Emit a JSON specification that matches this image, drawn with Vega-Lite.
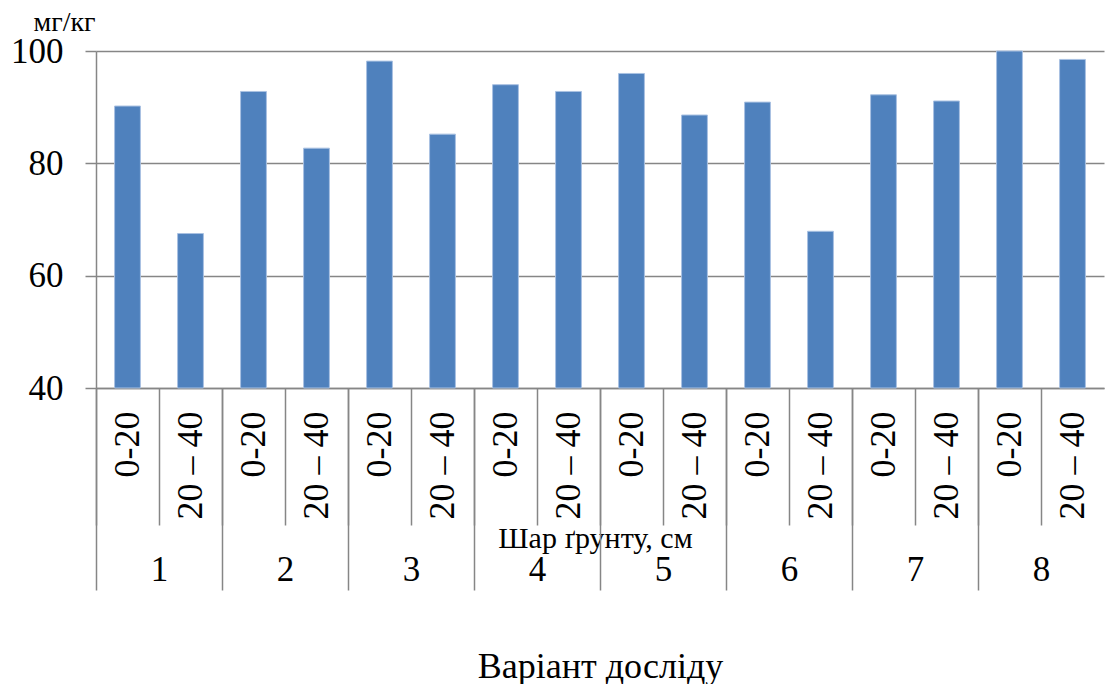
{
  "$schema": "https://vega.github.io/schema/vega-lite/v6.json",
  "width": 1008,
  "height": 337,
  "autosize": {"type": "none"},
  "padding": {"left": 96, "top": 51, "right": 6, "bottom": 296},
  "background": "white",
  "config": {
    "view": {"stroke": null},
    "font": "Liberation Serif",
    "axis": {"labelFont": "Liberation Serif", "titleFont": "Liberation Serif", "labelColor": "black", "titleColor": "black"}
  },
  "data": {
    "values": [
      {"group": "1", "key": "1|0-20", "value": 90.2},
      {"group": "1", "key": "1|20 – 40", "value": 67.5},
      {"group": "2", "key": "2|0-20", "value": 92.8},
      {"group": "2", "key": "2|20 – 40", "value": 82.7},
      {"group": "3", "key": "3|0-20", "value": 98.2},
      {"group": "3", "key": "3|20 – 40", "value": 85.2},
      {"group": "4", "key": "4|0-20", "value": 94.0},
      {"group": "4", "key": "4|20 – 40", "value": 92.8},
      {"group": "5", "key": "5|0-20", "value": 96.0},
      {"group": "5", "key": "5|20 – 40", "value": 88.6},
      {"group": "6", "key": "6|0-20", "value": 90.9},
      {"group": "6", "key": "6|20 – 40", "value": 67.9},
      {"group": "7", "key": "7|0-20", "value": 92.2},
      {"group": "7", "key": "7|20 – 40", "value": 91.1},
      {"group": "8", "key": "8|0-20", "value": 100.0},
      {"group": "8", "key": "8|20 – 40", "value": 98.5}
    ]
  },
  "layer": [
    {
      "mark": {"type": "bar", "width": {"band": 0.41}, "fill": "#4F81BD", "stroke": "#a9c1e2", "strokeWidth": 1},
      "encoding": {
        "x": {
          "field": "key", "type": "nominal", "sort": null,
          "scale": {"paddingInner": 0, "paddingOuter": 0},
          "axis": {
            "orient": "bottom",
            "labelExpr": "split(datum.label, '|')[1]",
            "labelAngle": -90, "labelAlign": "right", "labelBaseline": "middle",
            "labelPadding": 23, "labelFontSize": 36, "labelOverlap": false,
            "ticks": false, "grid": false,
            "domain": true, "domainColor": "#868686", "domainWidth": 1.5,
            "title": "Шар ґрунту, см", "titleFontSize": 30, "titleFontWeight": "normal",
            "titleX": 499, "titleY": 159, "titleBaseline": "alphabetic", "titleAlign": "center"
          }
        },
        "y": {
          "field": "value", "type": "quantitative",
          "scale": {"domain": [40, 100], "nice": false, "zero": false},
          "axis": {
            "values": [40, 60, 80, 100],
            "grid": true, "gridColor": "#868686", "gridWidth": 1.5,
            "tickSize": 11, "tickColor": "#868686", "tickWidth": 1.5,
            "domainColor": "#868686", "domainWidth": 1.5,
            "labelFontSize": 35, "labelPadding": 22, "labelFlush": false, "labelOverlap": false,
            "title": "мг/кг", "titleAngle": 0, "titleX": -63, "titleY": -21,
            "titleAlign": "left", "titleBaseline": "alphabetic",
            "titleFontSize": 28, "titleFontWeight": "normal"
          }
        },
        "y2": {"datum": 40}
      }
    },
    {
      "mark": {"type": "point", "opacity": 0},
      "encoding": {
        "x": {
          "field": "key", "type": "nominal", "sort": null,
          "scale": {"paddingInner": 0, "paddingOuter": 0},
          "axis": {
            "orient": "bottom", "labels": false, "domain": false, "grid": false,
            "ticks": true, "tickSize": 137, "tickColor": "#868686", "tickWidth": 1.5,
            "tickOffset": -31.5, "title": null
          }
        }
      }
    },
    {
      "mark": {"type": "point", "opacity": 0},
      "encoding": {
        "x": {
          "field": "group", "type": "nominal", "sort": null,
          "scale": {"paddingInner": 0, "paddingOuter": 0},
          "axis": {
            "orient": "bottom", "labels": false, "domain": false, "grid": false,
            "ticks": true, "tickSize": 202, "tickColor": "#868686", "tickWidth": 1.5,
            "tickOffset": -63, "title": null
          }
        }
      }
    },
    {
      "mark": {"type": "point", "opacity": 0},
      "encoding": {
        "x": {
          "field": "group", "type": "nominal", "sort": null,
          "scale": {"paddingInner": 0, "paddingOuter": 0},
          "axis": {
            "orient": "bottom", "domain": false, "grid": false, "ticks": false,
            "labels": true, "labelAngle": 0, "labelAlign": "center", "labelBaseline": "alphabetic",
            "labelPadding": 192, "labelFontSize": 35,
            "title": "Варіант досліду", "titleFontSize": 36, "titleFontWeight": "normal",
            "titleX": 504, "titleY": 289, "titleBaseline": "alphabetic", "titleAlign": "center"
          }
        }
      }
    }
  ],
  "resolve": {"scale": {"x": "independent"}, "axis": {"x": "independent"}}
}
